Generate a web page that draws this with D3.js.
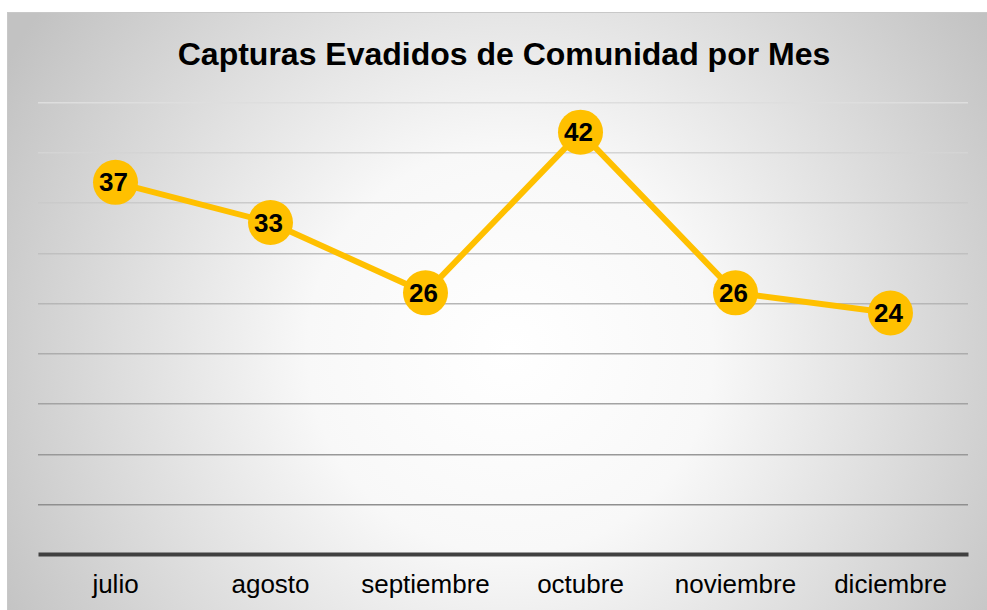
<!DOCTYPE html>
<html>
<head>
<meta charset="utf-8">
<script src="https://cdn.jsdelivr.net/npm/d3@7"></script>
<style>
  body { margin: 0; background: #fff; }
  svg { display: block; font-family: Arial, "Liberation Sans", sans-serif; }
</style>
</head>
<body>
<svg width="987" height="610"></svg>
<script>
const months = ["julio", "agosto", "septiembre", "octubre", "noviembre", "diciembre"];
const capturas = [37, 33, 26, 42, 26, 24];
const yTicks = [5, 10, 15, 20, 25, 30, 35, 40, 45];

const svg = d3.select('svg');

// radial background like the office chart
const defs = svg.append('defs');
const grad = defs.append('radialGradient')
    .attr('id', 'bg')
    .attr('gradientUnits', 'userSpaceOnUse')
    .attr('cx', 510).attr('cy', 350).attr('r', 580);
grad.append('stop').attr('offset', '0%').attr('stop-color', '#ffffff');
grad.append('stop').attr('offset', '35%').attr('stop-color', '#f8f8f8');
grad.append('stop').attr('offset', '100%').attr('stop-color', '#c2c2c2');

const plotLeft = 38, plotRight = 968, plotTop = 102, plotBottom = 554;

// gridlines fade toward the top
const gridGrad = defs.append('linearGradient')
    .attr('id', 'gridfade')
    .attr('gradientUnits', 'userSpaceOnUse')
    .attr('x1', 0).attr('x2', 0)
    .attr('y1', plotTop).attr('y2', 504);
gridGrad.append('stop').attr('offset', '0%').attr('stop-color', '#dedede');
gridGrad.append('stop').attr('offset', '100%').attr('stop-color', '#8f8f8f');

svg.append('rect')
    .attr('x', 7.5).attr('y', 12.5)
    .attr('width', 985).attr('height', 605)
    .attr('fill', 'url(#bg)')
    .attr('stroke', '#c8c8c8');

const x = d3.scaleBand().domain(months).range([plotLeft, plotRight]);
const y = d3.scaleLinear().domain([0, 45]).range([plotBottom, plotTop]);

svg.append('text')
    .attr('x', 504).attr('y', 65)
    .attr('text-anchor', 'middle')
    .attr('font-size', 32).attr('font-weight', 'bold')
    .attr('fill', '#000')
    .text('Capturas Evadidos de Comunidad por Mes');

// gridlines (drawn as thin rects so the gradient applies)
svg.append('g')
    .selectAll('rect')
    .data(yTicks)
    .enter()
    .append('rect')
    .attr('x', plotLeft)
    .attr('width', plotRight - plotLeft)
    .attr('y', d => Math.round(y(d)))
    .attr('height', 1.5)
    .attr('fill', 'url(#gridfade)');

// x axis
const xAxis = svg.append('g')
    .attr('transform', `translate(0,${plotBottom})`)
    .call(d3.axisBottom(x).tickSize(0).tickPadding(21));
xAxis.select('.domain').attr('stroke', '#404040').attr('stroke-width', 4);
xAxis.selectAll('text')
    .attr('font-size', 26)
    .attr('font-family', 'Arial, "Liberation Sans", sans-serif')
    .attr('fill', '#000');

const cx = (d, i) => x(months[i]) + x.bandwidth() / 2;

const line = d3.line()
    .x((d, i) => cx(d, i))
    .y(d => y(d));

svg.append('path')
    .datum(capturas)
    .attr('d', line)
    .attr('fill', 'none')
    .attr('stroke', '#ffc000')
    .attr('stroke-width', 6);

svg.append('g')
    .selectAll('circle')
    .data(capturas)
    .enter()
    .append('circle')
    .attr('cx', cx)
    .attr('cy', d => y(d))
    .attr('r', 22.5)
    .attr('fill', '#ffc000');

svg.append('g')
    .selectAll('text')
    .data(capturas)
    .enter()
    .append('text')
    .attr('x', (d, i) => cx(d, i) - 2)
    .attr('y', d => y(d) + 9)
    .attr('text-anchor', 'middle')
    .attr('font-size', 26).attr('font-weight', 'bold')
    .attr('fill', '#000')
    .text(d => d);
</script>
</body>
</html>
